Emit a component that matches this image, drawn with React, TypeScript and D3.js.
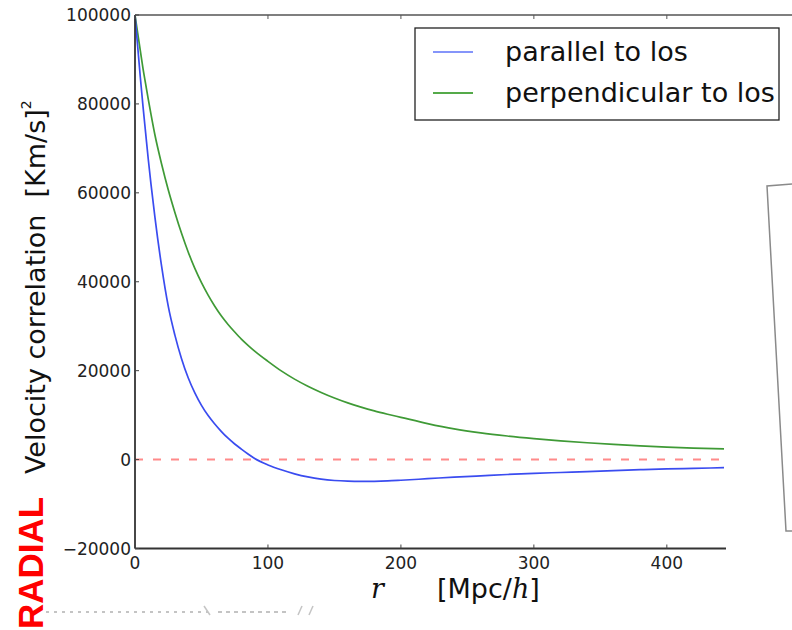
import React from "react";
import * as d3 from "d3";

const rValues = [0, 2, 4, 6, 8, 10, 12, 15, 20, 25, 30, 35, 40, 45, 50, 55, 60, 65, 70, 75, 80, 85, 90, 100, 110, 120, 130, 140, 150, 160, 170, 180, 190, 200, 220, 240, 260, 280, 300, 320, 340, 360, 380, 400, 420, 443];

const parallelValues = [100000, 93000, 86000, 79500, 73500, 67500, 62000, 54500, 43500, 34500, 28000, 22700, 18400, 15000, 12200, 9900, 8000, 6300, 4800, 3500, 2350, 1250, 250, -1200, -2300, -3200, -3900, -4400, -4700, -4850, -4900, -4880, -4800, -4650, -4300, -3950, -3650, -3350, -3100, -2900, -2700, -2480, -2280, -2100, -1980, -1830];

const perpendicularValues = [100000, 96000, 92000, 88000, 84500, 81000, 77700, 73000, 66500, 60700, 55600, 50900, 46700, 43000, 39800, 37000, 34500, 32300, 30400, 28700, 27100, 25700, 24400, 22100, 19950, 18100, 16500, 15100, 13850, 12750, 11800, 10950, 10200, 9500, 8100, 6900, 6000, 5300, 4720, 4220, 3790, 3410, 3080, 2800, 2580, 2400];

const xTicks = [0, 100, 200, 300, 400];
const yTicks = [-20000, 0, 20000, 40000, 60000, 80000, 100000];
const legendLabels = ["parallel to los", "perpendicular to los"];

const SANS = "'DejaVu Sans', sans-serif";
const SERIF = "'DejaVu Serif', serif";

export default function App() {
  const x = d3.scaleLinear().domain([0, 443]).range([135, 724]);
  const y = d3.scaleLinear().domain([-20000, 100000]).range([548.5, 15]);

  const line = d3
    .line<number>()
    .x((_, i) => x(rValues[i]))
    .y((d) => y(d))
    .curve(d3.curveMonotoneX);

  const left = x(0);
  const right = x(443);
  const top = y(100000);
  const bottom = y(-20000);

  return (
    <svg
      width={792}
      height={630}
      style={{ position: "absolute", left: 0, top: 0, background: "#fff" }}
    >
      <rect x={0} y={0} width={792} height={630} fill="#fff" />

      {/* zero reference */}
      <line
        x1={left}
        x2={right}
        y1={y(0)}
        y2={y(0)}
        stroke="#ff8a8a"
        strokeWidth={2}
        strokeDasharray="8,10"
      />

      {/* curves */}
      <path d={line(perpendicularValues) || ""} fill="none" stroke="#3f9a36" strokeWidth={1.7} />
      <path d={line(parallelValues) || ""} fill="none" stroke="#3a4cf0" strokeWidth={1.7} />

      {/* spines */}
      <line x1={left} x2={792} y1={top} y2={top} stroke="#555" strokeWidth={1.5} />
      <line x1={left} x2={left} y1={top} y2={bottom} stroke="#333" strokeWidth={1.8} />
      <line x1={left} x2={right + 2} y1={bottom} y2={bottom} stroke="#333" strokeWidth={1.8} />

      {/* y ticks */}
      {yTicks.map((t) => (
        <g key={"y" + t}>
          <line x1={left} x2={left + 4} y1={y(t)} y2={y(t)} stroke="#444" strokeWidth={1} />
          <text
            x={131}
            y={y(t) + 6}
            textAnchor="end"
            fontFamily={SANS}
            fontSize={17}
            fill="#222"
          >
            {t < 0 ? "\u2212" + Math.abs(t) : String(t)}
          </text>
        </g>
      ))}

      {/* x ticks */}
      {xTicks.map((t) => (
        <g key={"x" + t}>
          <line x1={x(t)} x2={x(t)} y1={bottom} y2={bottom - 4} stroke="#444" strokeWidth={1} />
          <line x1={x(t)} x2={x(t)} y1={top} y2={top + 4} stroke="#555" strokeWidth={1} />
          <text
            x={x(t)}
            y={569}
            textAnchor="middle"
            fontFamily={SANS}
            fontSize={17}
            fill="#222"
          >
            {t}
          </text>
        </g>
      ))}

      {/* x label */}
      <text x={371} y={598} fontFamily={SERIF} fontStyle="italic" fontSize={27} fill="#111">
        r
      </text>
      <text x={437} y={598} fontFamily={SANS} fontSize={27} fill="#111">
        [Mpc/
        <tspan fontFamily={SERIF} fontStyle="italic">h</tspan>]
      </text>

      {/* y label */}
      <text
        transform="translate(45,474) rotate(-90)"
        fontFamily={SANS}
        fontSize={27}
        fill="#111"
      >
        {"Velocity correlation\u00a0\u00a0[Km/s]"}
        <tspan fontSize={14} dy={-14}>2</tspan>
      </text>

      {/* RADIAL annotation */}
      <text
        transform="translate(43,629) rotate(-90)"
        fontFamily="'Liberation Sans', Arial, sans-serif"
        fontWeight="bold"
        fontSize={35}
        fill="#ff0000"
      >
        RADIAL
      </text>

      {/* faint cut-off text remnant */}
      <line x1={46} x2={208} y1={612} y2={612} stroke="#c4c4c4" strokeWidth={2} strokeDasharray="3,5" />
      <line x1={218} x2={290} y1={612} y2={612} stroke="#c4c4c4" strokeWidth={2} strokeDasharray="4,4" />
      <line x1={204} x2={210} y1={606} y2={615} stroke="#c4c4c4" strokeWidth={1.5} />
      <line x1={302} x2={298} y1={606} y2={615} stroke="#c4c4c4" strokeWidth={1.5} />
      <line x1={313} x2={309} y1={606} y2={615} stroke="#c4c4c4" strokeWidth={1.5} />

      {/* neighbouring frame on the right */}
      <polyline
        points="792,184 767,186 786,531 792,531"
        fill="none"
        stroke="#8a8a8a"
        strokeWidth={1.5}
      />

      {/* legend */}
      <rect x={415} y={28} width={364} height={92} fill="#fff" stroke="#222" strokeWidth={1.3} />
      {legendLabels.map((lab, i) => (
        <g key={lab}>
          <line
            x1={433}
            x2={473}
            y1={52 + i * 41}
            y2={52 + i * 41}
            stroke={i === 0 ? "#8595fa" : "#55aa4a"}
            strokeWidth={2}
          />
          <text x={505} y={61 + i * 41} fontFamily={SANS} fontSize={27} fill="#111">
            {lab}
          </text>
        </g>
      ))}
    </svg>
  );
}
